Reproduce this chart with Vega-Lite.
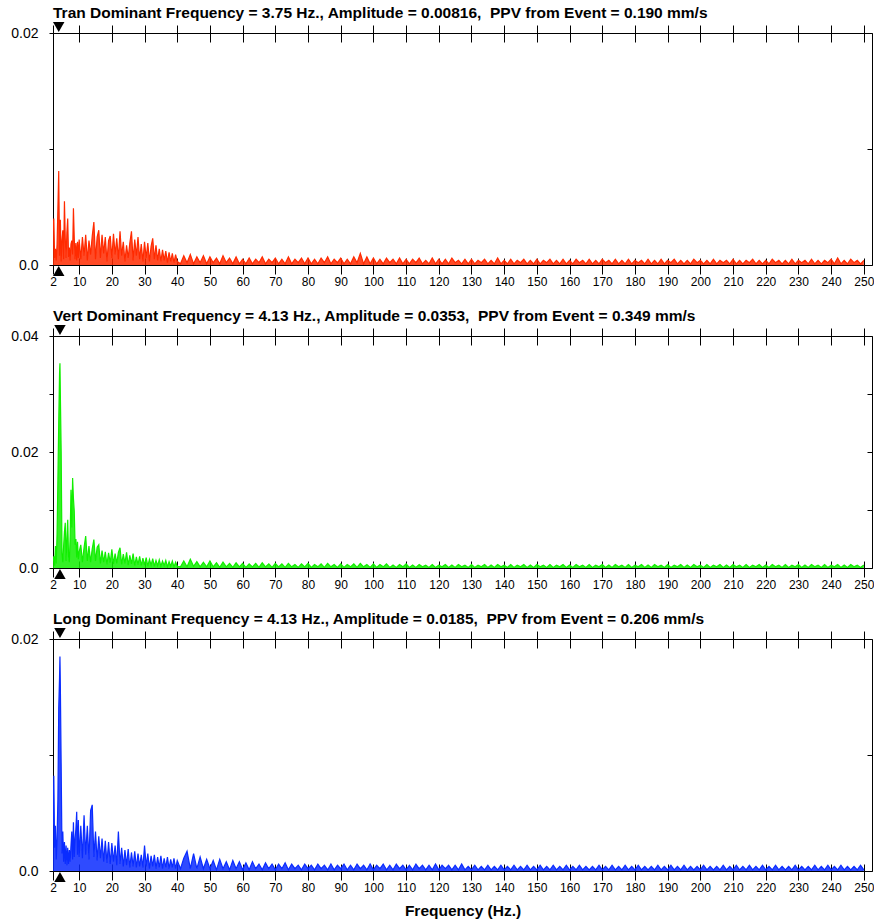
{
"$schema": "https://vega.github.io/schema/vega-lite/v6.json",
"padding": {"left": 10, "top": 5, "right": 0, "bottom": 0},
"config": {
 "view": {"stroke": "#000", "strokeWidth": 1},
 "axis": {"labelFont": "Liberation Sans", "labelFontSize": 12, "labelColor": "#000", "tickColor": "#000", "tickWidth": 1, "domain": false, "grid": false, "labelFlush": false, "titleFont": "Liberation Sans", "titleFontSize": 15.5, "titleFontWeight": "bold", "titleColor": "#000"},
 "axisY": {"labelFontSize": 14},
 "title": {"font": "Liberation Sans", "fontSize": 15.5, "fontWeight": "bold", "color": "#000", "anchor": "start", "frame": "group", "offset": 1},
 "concat": {"spacing": 20}
},
"datasets": {
"tran": [
{"f":2,"a":0.0030},{"f":2.25,"a":0.0040},{"f":2.5,"a":0.0006},{"f":2.75,"a":0.0014},{"f":3,"a":0.0004},{"f":3.25,"a":0.0018},{"f":3.5,"a":0.0049},{"f":3.75,"a":0.0081},{"f":4,"a":0.0008},{"f":4.25,"a":0.0039},{"f":4.5,"a":0.0003},{"f":4.75,"a":0.0021},{"f":5,"a":0.0030},{"f":5.25,"a":0.0005},{"f":5.5,"a":0.0055},{"f":5.75,"a":0.0023},{"f":6,"a":0.0006},{"f":6.25,"a":0.0028},{"f":6.5,"a":0.0040},{"f":6.75,"a":0.0007},{"f":7,"a":0.0015},{"f":7.25,"a":0.0004},{"f":7.5,"a":0.0018},{"f":7.75,"a":0.0021},{"f":8,"a":0.0009},{"f":8.25,"a":0.0049},{"f":8.5,"a":0.0023},{"f":8.75,"a":0.0005},{"f":9,"a":0.0019},{"f":9.25,"a":0.0004},{"f":9.5,"a":0.0020},{"f":9.75,"a":0.0006},{"f":10,"a":0.0022},
{"f":10.5,"a":0.0005},{"f":11,"a":0.0024},{"f":11.5,"a":0.0008},{"f":12,"a":0.0026},{"f":12.5,"a":0.0004},{"f":13,"a":0.0021},{"f":13.5,"a":0.0009},{"f":14,"a":0.0025},{"f":14.5,"a":0.0037},{"f":15,"a":0.0005},{"f":15.5,"a":0.0024},{"f":16,"a":0.0030},{"f":16.5,"a":0.0006},{"f":17,"a":0.0026},{"f":17.5,"a":0.0010},{"f":18,"a":0.0024},{"f":18.5,"a":0.0003},{"f":19,"a":0.0021},{"f":19.5,"a":0.0025},{"f":20,"a":0.0006},{"f":20.5,"a":0.0027},{"f":21,"a":0.0009},{"f":21.5,"a":0.0023},{"f":22,"a":0.0005},{"f":22.5,"a":0.0029},{"f":23,"a":0.0008},{"f":23.5,"a":0.0020},{"f":24,"a":0.0003},{"f":24.5,"a":0.0017},{"f":25,"a":0.0006},{"f":25.5,"a":0.0019},{"f":26,"a":0.0029},{"f":26.5,"a":0.0004},{"f":27,"a":0.0022},{"f":27.5,"a":0.0008},{"f":28,"a":0.0024},{"f":28.5,"a":0.0005},{"f":29,"a":0.0018},{"f":29.5,"a":0.0003},{"f":30,"a":0.0020},{"f":30.5,"a":0.0006},{"f":31,"a":0.0019},{"f":31.5,"a":0.0003},{"f":32,"a":0.0016},{"f":32.5,"a":0.0023},{"f":33,"a":0.0005},{"f":33.5,"a":0.0017},{"f":34,"a":0.0004},{"f":34.5,"a":0.0014},{"f":35,"a":0.0003},{"f":35.5,"a":0.0013},{"f":36,"a":0.0004},{"f":36.5,"a":0.0012},{"f":37,"a":0.0002},{"f":37.5,"a":0.0011},{"f":38,"a":0.0003},{"f":38.5,"a":0.0010},{"f":39,"a":0.0002},{"f":39.5,"a":0.0009},{"f":40,"a":0.0003},
{"f":41,"a":0.0001},{"f":42,"a":0.0008},{"f":43,"a":0.0002},{"f":44,"a":0.0009},{"f":45,"a":0.0001},{"f":46,"a":0.0007},{"f":47,"a":0.0002},{"f":48,"a":0.0008},{"f":49,"a":0.0001},{"f":50,"a":0.0007},{"f":51,"a":0.0002},{"f":52,"a":0.0006},{"f":53,"a":0.0001},{"f":54,"a":0.0008},{"f":55,"a":0.0002},{"f":56,"a":0.0006},{"f":57,"a":0.0001},{"f":58,"a":0.0007},{"f":59,"a":0.0001},{"f":60,"a":0.0005},
{"f":61,"a":0.0001},{"f":62,"a":0.0006},{"f":63,"a":0.0001},{"f":64,"a":0.0005},{"f":65,"a":0.0002},{"f":66,"a":0.0007},{"f":67,"a":0.0001},{"f":68,"a":0.0005},{"f":69,"a":0.0002},{"f":70,"a":0.0006},{"f":71,"a":0.0001},{"f":72,"a":0.0005},{"f":73,"a":0.0001},{"f":74,"a":0.0007},{"f":75,"a":0.0001},{"f":76,"a":0.0005},{"f":77,"a":0.0002},{"f":78,"a":0.0006},{"f":79,"a":0.0001},{"f":80,"a":0.0006},
{"f":81,"a":0.0001},{"f":82,"a":0.0005},{"f":83,"a":0.0001},{"f":84,"a":0.0006},{"f":85,"a":0.0002},{"f":86,"a":0.0007},{"f":87,"a":0.0001},{"f":88,"a":0.0005},{"f":89,"a":0.0002},{"f":90,"a":0.0006},{"f":91,"a":0.0001},{"f":92,"a":0.0005},{"f":93,"a":0.0001},{"f":94,"a":0.0007},{"f":95,"a":0.0002},{"f":96,"a":0.0010},{"f":97,"a":0.0001},{"f":98,"a":0.0007},{"f":99,"a":0.0001},{"f":100,"a":0.0006},
{"f":101,"a":0.0001},{"f":102,"a":0.0005},{"f":103,"a":0.0001},{"f":104,"a":0.0006},{"f":105,"a":0.0002},{"f":106,"a":0.0005},{"f":107,"a":0.0001},{"f":108,"a":0.0006},{"f":109,"a":0.0001},{"f":110,"a":0.0005},{"f":111,"a":0.0001},{"f":112,"a":0.0005},{"f":113,"a":0.0002},{"f":114,"a":0.0006},{"f":115,"a":0.0001},{"f":116,"a":0.0004},{"f":117,"a":0.0001},{"f":118,"a":0.0006},{"f":119,"a":0.0001},{"f":120,"a":0.0005},
{"f":121,"a":0.0001},{"f":122,"a":0.0005},{"f":123,"a":0.0001},{"f":124,"a":0.0006},{"f":125,"a":0.0002},{"f":126,"a":0.0004},{"f":127,"a":0.0001},{"f":128,"a":0.0005},{"f":129,"a":0.0001},{"f":130,"a":0.0005},{"f":131,"a":0.0001},{"f":132,"a":0.0004},{"f":133,"a":0.0002},{"f":134,"a":0.0005},{"f":135,"a":0.0001},{"f":136,"a":0.0004},{"f":137,"a":0.0001},{"f":138,"a":0.0006},{"f":139,"a":0.0001},{"f":140,"a":0.0004},
{"f":141,"a":0.0001},{"f":142,"a":0.0005},{"f":143,"a":0.0001},{"f":144,"a":0.0004},{"f":145,"a":0.0002},{"f":146,"a":0.0005},{"f":147,"a":0.0001},{"f":148,"a":0.0004},{"f":149,"a":0.0001},{"f":150,"a":0.0005},{"f":151,"a":0.0001},{"f":152,"a":0.0004},{"f":153,"a":0.0002},{"f":154,"a":0.0005},{"f":155,"a":0.0001},{"f":156,"a":0.0004},{"f":157,"a":0.0001},{"f":158,"a":0.0005},{"f":159,"a":0.0001},{"f":160,"a":0.0004},
{"f":161,"a":0.0001},{"f":162,"a":0.0005},{"f":163,"a":0.0002},{"f":164,"a":0.0004},{"f":165,"a":0.0001},{"f":166,"a":0.0005},{"f":167,"a":0.0001},{"f":168,"a":0.0004},{"f":169,"a":0.0001},{"f":170,"a":0.0005},{"f":171,"a":0.0002},{"f":172,"a":0.0004},{"f":173,"a":0.0001},{"f":174,"a":0.0005},{"f":175,"a":0.0001},{"f":176,"a":0.0004},{"f":177,"a":0.0001},{"f":178,"a":0.0005},{"f":179,"a":0.0001},{"f":180,"a":0.0004},
{"f":181,"a":0.0002},{"f":182,"a":0.0004},{"f":183,"a":0.0001},{"f":184,"a":0.0005},{"f":185,"a":0.0001},{"f":186,"a":0.0004},{"f":187,"a":0.0001},{"f":188,"a":0.0005},{"f":189,"a":0.0001},{"f":190,"a":0.0004},{"f":191,"a":0.0002},{"f":192,"a":0.0005},{"f":193,"a":0.0001},{"f":194,"a":0.0004},{"f":195,"a":0.0001},{"f":196,"a":0.0004},{"f":197,"a":0.0001},{"f":198,"a":0.0005},{"f":199,"a":0.0002},{"f":200,"a":0.0004},
{"f":201,"a":0.0001},{"f":202,"a":0.0004},{"f":203,"a":0.0001},{"f":204,"a":0.0005},{"f":205,"a":0.0001},{"f":206,"a":0.0004},{"f":207,"a":0.0002},{"f":208,"a":0.0004},{"f":209,"a":0.0001},{"f":210,"a":0.0005},{"f":211,"a":0.0001},{"f":212,"a":0.0004},{"f":213,"a":0.0001},{"f":214,"a":0.0004},{"f":215,"a":0.0002},{"f":216,"a":0.0005},{"f":217,"a":0.0001},{"f":218,"a":0.0004},{"f":219,"a":0.0001},{"f":220,"a":0.0004},
{"f":221,"a":0.0001},{"f":222,"a":0.0005},{"f":223,"a":0.0002},{"f":224,"a":0.0004},{"f":225,"a":0.0001},{"f":226,"a":0.0004},{"f":227,"a":0.0001},{"f":228,"a":0.0005},{"f":229,"a":0.0001},{"f":230,"a":0.0004},{"f":231,"a":0.0002},{"f":232,"a":0.0004},{"f":233,"a":0.0001},{"f":234,"a":0.0005},{"f":235,"a":0.0001},{"f":236,"a":0.0004},{"f":237,"a":0.0001},{"f":238,"a":0.0004},{"f":239,"a":0.0002},{"f":240,"a":0.0005},
{"f":241,"a":0.0001},{"f":242,"a":0.0006},{"f":243,"a":0.0001},{"f":244,"a":0.0004},{"f":245,"a":0.0001},{"f":246,"a":0.0005},{"f":247,"a":0.0002},{"f":248,"a":0.0004},{"f":249,"a":0.0001},{"f":250,"a":0.0004}
],
"vert": [
{"f":2,"a":0.0012},{"f":2.25,"a":0.0020},{"f":2.5,"a":0.0004},{"f":2.75,"a":0.0038},{"f":3,"a":0.0008},{"f":3.25,"a":0.0060},{"f":3.5,"a":0.0152},{"f":3.75,"a":0.0250},{"f":4,"a":0.0335},{"f":4.125,"a":0.0353},{"f":4.25,"a":0.0300},{"f":4.5,"a":0.0200},{"f":4.75,"a":0.0025},{"f":5,"a":0.0010},{"f":5.25,"a":0.0038},{"f":5.5,"a":0.0062},{"f":5.75,"a":0.0078},{"f":6,"a":0.0012},{"f":6.25,"a":0.0050},{"f":6.5,"a":0.0083},{"f":6.75,"a":0.0020},{"f":7,"a":0.0010},{"f":7.25,"a":0.0055},{"f":7.5,"a":0.0135},{"f":7.75,"a":0.0070},{"f":8,"a":0.0155},{"f":8.25,"a":0.0120},{"f":8.5,"a":0.0098},{"f":8.75,"a":0.0040},{"f":9,"a":0.0050},{"f":9.25,"a":0.0018},{"f":9.5,"a":0.0045},{"f":9.75,"a":0.0015},{"f":10,"a":0.0028},
{"f":10.5,"a":0.0040},{"f":11,"a":0.0010},{"f":11.5,"a":0.0035},{"f":12,"a":0.0055},{"f":12.5,"a":0.0012},{"f":13,"a":0.0038},{"f":13.5,"a":0.0010},{"f":14,"a":0.0033},{"f":14.5,"a":0.0049},{"f":15,"a":0.0012},{"f":15.5,"a":0.0036},{"f":16,"a":0.0040},{"f":16.5,"a":0.0008},{"f":17,"a":0.0030},{"f":17.5,"a":0.0010},{"f":18,"a":0.0028},{"f":18.5,"a":0.0006},{"f":19,"a":0.0026},{"f":19.5,"a":0.0009},{"f":20,"a":0.0032},{"f":20.5,"a":0.0007},{"f":21,"a":0.0025},{"f":21.5,"a":0.0008},{"f":22,"a":0.0027},{"f":22.5,"a":0.0035},{"f":23,"a":0.0006},{"f":23.5,"a":0.0024},{"f":24,"a":0.0008},{"f":24.5,"a":0.0027},{"f":25,"a":0.0005},{"f":25.5,"a":0.0022},{"f":26,"a":0.0007},{"f":26.5,"a":0.0025},{"f":27,"a":0.0004},{"f":27.5,"a":0.0019},{"f":28,"a":0.0006},{"f":28.5,"a":0.0020},{"f":29,"a":0.0004},{"f":29.5,"a":0.0017},{"f":30,"a":0.0005},{"f":30.5,"a":0.0018},{"f":31,"a":0.0003},{"f":31.5,"a":0.0015},{"f":32,"a":0.0005},{"f":32.5,"a":0.0016},{"f":33,"a":0.0003},{"f":33.5,"a":0.0013},{"f":34,"a":0.0004},{"f":34.5,"a":0.0014},{"f":35,"a":0.0003},{"f":35.5,"a":0.0012},{"f":36,"a":0.0004},{"f":36.5,"a":0.0013},{"f":37,"a":0.0002},{"f":37.5,"a":0.0011},{"f":38,"a":0.0003},{"f":38.5,"a":0.0012},{"f":39,"a":0.0002},{"f":39.5,"a":0.0010},{"f":40,"a":0.0003},
{"f":41,"a":0.0002},{"f":42,"a":0.0012},{"f":43,"a":0.0002},{"f":44,"a":0.0015},{"f":45,"a":0.0003},{"f":46,"a":0.0011},{"f":47,"a":0.0002},{"f":48,"a":0.0010},{"f":49,"a":0.0002},{"f":50,"a":0.0012},{"f":51,"a":0.0002},{"f":52,"a":0.0009},{"f":53,"a":0.0001},{"f":54,"a":0.0010},{"f":55,"a":0.0002},{"f":56,"a":0.0008},{"f":57,"a":0.0001},{"f":58,"a":0.0009},{"f":59,"a":0.0002},{"f":60,"a":0.0008},
{"f":61,"a":0.0001},{"f":62,"a":0.0007},{"f":63,"a":0.0002},{"f":64,"a":0.0008},{"f":65,"a":0.0001},{"f":66,"a":0.0009},{"f":67,"a":0.0002},{"f":68,"a":0.0007},{"f":69,"a":0.0001},{"f":70,"a":0.0008},{"f":71,"a":0.0002},{"f":72,"a":0.0007},{"f":73,"a":0.0001},{"f":74,"a":0.0008},{"f":75,"a":0.0002},{"f":76,"a":0.0006},{"f":77,"a":0.0001},{"f":78,"a":0.0007},{"f":79,"a":0.0002},{"f":80,"a":0.0008},
{"f":81,"a":0.0001},{"f":82,"a":0.0006},{"f":83,"a":0.0002},{"f":84,"a":0.0007},{"f":85,"a":0.0001},{"f":86,"a":0.0008},{"f":87,"a":0.0002},{"f":88,"a":0.0006},{"f":89,"a":0.0001},{"f":90,"a":0.0007},{"f":91,"a":0.0001},{"f":92,"a":0.0006},{"f":93,"a":0.0002},{"f":94,"a":0.0007},{"f":95,"a":0.0001},{"f":96,"a":0.0008},{"f":97,"a":0.0002},{"f":98,"a":0.0006},{"f":99,"a":0.0001},{"f":100,"a":0.0007},
{"f":101,"a":0.0001},{"f":102,"a":0.0006},{"f":103,"a":0.0002},{"f":104,"a":0.0007},{"f":105,"a":0.0001},{"f":106,"a":0.0005},{"f":107,"a":0.0001},{"f":108,"a":0.0006},{"f":109,"a":0.0002},{"f":110,"a":0.0007},{"f":111,"a":0.0001},{"f":112,"a":0.0005},{"f":113,"a":0.0001},{"f":114,"a":0.0006},{"f":115,"a":0.0002},{"f":116,"a":0.0005},{"f":117,"a":0.0001},{"f":118,"a":0.0006},{"f":119,"a":0.0001},{"f":120,"a":0.0005},
{"f":121,"a":0.0002},{"f":122,"a":0.0006},{"f":123,"a":0.0001},{"f":124,"a":0.0005},{"f":125,"a":0.0001},{"f":126,"a":0.0006},{"f":127,"a":0.0002},{"f":128,"a":0.0005},{"f":129,"a":0.0001},{"f":130,"a":0.0006},{"f":131,"a":0.0001},{"f":132,"a":0.0005},{"f":133,"a":0.0002},{"f":134,"a":0.0006},{"f":135,"a":0.0001},{"f":136,"a":0.0005},{"f":137,"a":0.0001},{"f":138,"a":0.0006},{"f":139,"a":0.0002},{"f":140,"a":0.0005},
{"f":141,"a":0.0001},{"f":142,"a":0.0006},{"f":143,"a":0.0001},{"f":144,"a":0.0005},{"f":145,"a":0.0002},{"f":146,"a":0.0006},{"f":147,"a":0.0001},{"f":148,"a":0.0005},{"f":149,"a":0.0001},{"f":150,"a":0.0006},{"f":151,"a":0.0002},{"f":152,"a":0.0005},{"f":153,"a":0.0001},{"f":154,"a":0.0006},{"f":155,"a":0.0001},{"f":156,"a":0.0005},{"f":157,"a":0.0002},{"f":158,"a":0.0006},{"f":159,"a":0.0001},{"f":160,"a":0.0005},
{"f":161,"a":0.0001},{"f":162,"a":0.0006},{"f":163,"a":0.0002},{"f":164,"a":0.0005},{"f":165,"a":0.0001},{"f":166,"a":0.0006},{"f":167,"a":0.0001},{"f":168,"a":0.0005},{"f":169,"a":0.0002},{"f":170,"a":0.0006},{"f":171,"a":0.0001},{"f":172,"a":0.0005},{"f":173,"a":0.0001},{"f":174,"a":0.0006},{"f":175,"a":0.0002},{"f":176,"a":0.0005},{"f":177,"a":0.0001},{"f":178,"a":0.0006},{"f":179,"a":0.0001},{"f":180,"a":0.0005},
{"f":181,"a":0.0002},{"f":182,"a":0.0006},{"f":183,"a":0.0001},{"f":184,"a":0.0005},{"f":185,"a":0.0001},{"f":186,"a":0.0006},{"f":187,"a":0.0002},{"f":188,"a":0.0005},{"f":189,"a":0.0001},{"f":190,"a":0.0006},{"f":191,"a":0.0001},{"f":192,"a":0.0005},{"f":193,"a":0.0002},{"f":194,"a":0.0006},{"f":195,"a":0.0001},{"f":196,"a":0.0005},{"f":197,"a":0.0001},{"f":198,"a":0.0006},{"f":199,"a":0.0002},{"f":200,"a":0.0005},
{"f":201,"a":0.0001},{"f":202,"a":0.0006},{"f":203,"a":0.0001},{"f":204,"a":0.0005},{"f":205,"a":0.0002},{"f":206,"a":0.0006},{"f":207,"a":0.0001},{"f":208,"a":0.0005},{"f":209,"a":0.0001},{"f":210,"a":0.0006},{"f":211,"a":0.0002},{"f":212,"a":0.0005},{"f":213,"a":0.0001},{"f":214,"a":0.0006},{"f":215,"a":0.0001},{"f":216,"a":0.0005},{"f":217,"a":0.0002},{"f":218,"a":0.0006},{"f":219,"a":0.0001},{"f":220,"a":0.0005},
{"f":221,"a":0.0001},{"f":222,"a":0.0006},{"f":223,"a":0.0002},{"f":224,"a":0.0005},{"f":225,"a":0.0001},{"f":226,"a":0.0006},{"f":227,"a":0.0001},{"f":228,"a":0.0005},{"f":229,"a":0.0002},{"f":230,"a":0.0006},{"f":231,"a":0.0001},{"f":232,"a":0.0005},{"f":233,"a":0.0001},{"f":234,"a":0.0006},{"f":235,"a":0.0002},{"f":236,"a":0.0005},{"f":237,"a":0.0001},{"f":238,"a":0.0006},{"f":239,"a":0.0001},{"f":240,"a":0.0005},
{"f":241,"a":0.0002},{"f":242,"a":0.0006},{"f":243,"a":0.0001},{"f":244,"a":0.0005},{"f":245,"a":0.0001},{"f":246,"a":0.0006},{"f":247,"a":0.0002},{"f":248,"a":0.0005},{"f":249,"a":0.0001},{"f":250,"a":0.0005}
],
"long": [
{"f":2,"a":0.0040},{"f":2.25,"a":0.0082},{"f":2.5,"a":0.0020},{"f":2.75,"a":0.0039},{"f":3,"a":0.0010},{"f":3.25,"a":0.0028},{"f":3.5,"a":0.0062},{"f":3.75,"a":0.0140},{"f":4,"a":0.0167},{"f":4.125,"a":0.0185},{"f":4.25,"a":0.0160},{"f":4.5,"a":0.0090},{"f":4.75,"a":0.0015},{"f":5,"a":0.0034},{"f":5.25,"a":0.0008},{"f":5.5,"a":0.0025},{"f":5.75,"a":0.0006},{"f":6,"a":0.0022},{"f":6.25,"a":0.0005},{"f":6.5,"a":0.0020},{"f":6.75,"a":0.0006},{"f":7,"a":0.0018},{"f":7.25,"a":0.0008},{"f":7.5,"a":0.0022},{"f":7.75,"a":0.0034},{"f":8,"a":0.0010},{"f":8.25,"a":0.0042},{"f":8.5,"a":0.0012},{"f":8.75,"a":0.0028},{"f":9,"a":0.0036},{"f":9.25,"a":0.0051},{"f":9.5,"a":0.0014},{"f":9.75,"a":0.0044},{"f":10,"a":0.0012},
{"f":10.5,"a":0.0039},{"f":11,"a":0.0011},{"f":11.5,"a":0.0048},{"f":12,"a":0.0014},{"f":12.5,"a":0.0039},{"f":13,"a":0.0010},{"f":13.5,"a":0.0052},{"f":14,"a":0.0057},{"f":14.5,"a":0.0012},{"f":15,"a":0.0034},{"f":15.5,"a":0.0009},{"f":16,"a":0.0030},{"f":16.5,"a":0.0011},{"f":17,"a":0.0028},{"f":17.5,"a":0.0008},{"f":18,"a":0.0026},{"f":18.5,"a":0.0007},{"f":19,"a":0.0025},{"f":19.5,"a":0.0006},{"f":20,"a":0.0024},{"f":20.5,"a":0.0008},{"f":21,"a":0.0022},{"f":21.5,"a":0.0005},{"f":22,"a":0.0034},{"f":22.5,"a":0.0006},{"f":23,"a":0.0020},{"f":23.5,"a":0.0004},{"f":24,"a":0.0018},{"f":24.5,"a":0.0005},{"f":25,"a":0.0019},{"f":25.5,"a":0.0003},{"f":26,"a":0.0016},{"f":26.5,"a":0.0004},{"f":27,"a":0.0017},{"f":27.5,"a":0.0003},{"f":28,"a":0.0015},{"f":28.5,"a":0.0004},{"f":29,"a":0.0014},{"f":29.5,"a":0.0003},{"f":30,"a":0.0022},{"f":30.5,"a":0.0004},{"f":31,"a":0.0015},{"f":31.5,"a":0.0002},{"f":32,"a":0.0013},{"f":32.5,"a":0.0004},{"f":33,"a":0.0014},{"f":33.5,"a":0.0002},{"f":34,"a":0.0012},{"f":34.5,"a":0.0003},{"f":35,"a":0.0013},{"f":35.5,"a":0.0002},{"f":36,"a":0.0011},{"f":36.5,"a":0.0003},{"f":37,"a":0.0012},{"f":37.5,"a":0.0002},{"f":38,"a":0.0010},{"f":38.5,"a":0.0003},{"f":39,"a":0.0011},{"f":39.5,"a":0.0002},{"f":40,"a":0.0009},
{"f":41,"a":0.0002},{"f":42,"a":0.0011},{"f":43,"a":0.0017},{"f":44,"a":0.0002},{"f":45,"a":0.0015},{"f":46,"a":0.0002},{"f":47,"a":0.0012},{"f":48,"a":0.0002},{"f":49,"a":0.0010},{"f":50,"a":0.0002},{"f":51,"a":0.0009},{"f":52,"a":0.0001},{"f":53,"a":0.0010},{"f":54,"a":0.0002},{"f":55,"a":0.0008},{"f":56,"a":0.0001},{"f":57,"a":0.0009},{"f":58,"a":0.0002},{"f":59,"a":0.0008},{"f":60,"a":0.0001},
{"f":61,"a":0.0007},{"f":62,"a":0.0001},{"f":63,"a":0.0008},{"f":64,"a":0.0002},{"f":65,"a":0.0006},{"f":66,"a":0.0001},{"f":67,"a":0.0007},{"f":68,"a":0.0002},{"f":69,"a":0.0006},{"f":70,"a":0.0001},{"f":71,"a":0.0006},{"f":72,"a":0.0002},{"f":73,"a":0.0007},{"f":74,"a":0.0001},{"f":75,"a":0.0006},{"f":76,"a":0.0002},{"f":77,"a":0.0005},{"f":78,"a":0.0001},{"f":79,"a":0.0006},{"f":80,"a":0.0002},
{"f":81,"a":0.0005},{"f":82,"a":0.0001},{"f":83,"a":0.0006},{"f":84,"a":0.0002},{"f":85,"a":0.0005},{"f":86,"a":0.0001},{"f":87,"a":0.0006},{"f":88,"a":0.0001},{"f":89,"a":0.0005},{"f":90,"a":0.0002},{"f":91,"a":0.0006},{"f":92,"a":0.0001},{"f":93,"a":0.0005},{"f":94,"a":0.0001},{"f":95,"a":0.0006},{"f":96,"a":0.0002},{"f":97,"a":0.0005},{"f":98,"a":0.0001},{"f":99,"a":0.0006},{"f":100,"a":0.0001},
{"f":101,"a":0.0005},{"f":102,"a":0.0002},{"f":103,"a":0.0006},{"f":104,"a":0.0001},{"f":105,"a":0.0005},{"f":106,"a":0.0001},{"f":107,"a":0.0006},{"f":108,"a":0.0002},{"f":109,"a":0.0005},{"f":110,"a":0.0001},{"f":111,"a":0.0005},{"f":112,"a":0.0001},{"f":113,"a":0.0006},{"f":114,"a":0.0002},{"f":115,"a":0.0005},{"f":116,"a":0.0001},{"f":117,"a":0.0005},{"f":118,"a":0.0001},{"f":119,"a":0.0006},{"f":120,"a":0.0001},
{"f":121,"a":0.0005},{"f":122,"a":0.0002},{"f":123,"a":0.0005},{"f":124,"a":0.0001},{"f":125,"a":0.0005},{"f":126,"a":0.0001},{"f":127,"a":0.0006},{"f":128,"a":0.0001},{"f":129,"a":0.0004},{"f":130,"a":0.0001},{"f":131,"a":0.0005},{"f":132,"a":0.0001},{"f":133,"a":0.0004},{"f":134,"a":0.0001},{"f":135,"a":0.0005},{"f":136,"a":0.0001},{"f":137,"a":0.0004},{"f":138,"a":0.0001},{"f":139,"a":0.0005},{"f":140,"a":0.0001},
{"f":141,"a":0.0004},{"f":142,"a":0.0001},{"f":143,"a":0.0005},{"f":144,"a":0.0001},{"f":145,"a":0.0004},{"f":146,"a":0.0001},{"f":147,"a":0.0005},{"f":148,"a":0.0001},{"f":149,"a":0.0004},{"f":150,"a":0.0001},{"f":151,"a":0.0005},{"f":152,"a":0.0001},{"f":153,"a":0.0004},{"f":154,"a":0.0001},{"f":155,"a":0.0005},{"f":156,"a":0.0001},{"f":157,"a":0.0004},{"f":158,"a":0.0001},{"f":159,"a":0.0005},{"f":160,"a":0.0001},
{"f":161,"a":0.0004},{"f":162,"a":0.0001},{"f":163,"a":0.0005},{"f":164,"a":0.0001},{"f":165,"a":0.0004},{"f":166,"a":0.0001},{"f":167,"a":0.0004},{"f":168,"a":0.0001},{"f":169,"a":0.0005},{"f":170,"a":0.0001},{"f":171,"a":0.0004},{"f":172,"a":0.0001},{"f":173,"a":0.0005},{"f":174,"a":0.0001},{"f":175,"a":0.0004},{"f":176,"a":0.0001},{"f":177,"a":0.0005},{"f":178,"a":0.0001},{"f":179,"a":0.0004},{"f":180,"a":0.0001},
{"f":181,"a":0.0005},{"f":182,"a":0.0001},{"f":183,"a":0.0004},{"f":184,"a":0.0001},{"f":185,"a":0.0004},{"f":186,"a":0.0001},{"f":187,"a":0.0005},{"f":188,"a":0.0001},{"f":189,"a":0.0004},{"f":190,"a":0.0001},{"f":191,"a":0.0005},{"f":192,"a":0.0001},{"f":193,"a":0.0004},{"f":194,"a":0.0001},{"f":195,"a":0.0005},{"f":196,"a":0.0001},{"f":197,"a":0.0004},{"f":198,"a":0.0001},{"f":199,"a":0.0004},{"f":200,"a":0.0001},
{"f":201,"a":0.0005},{"f":202,"a":0.0001},{"f":203,"a":0.0004},{"f":204,"a":0.0001},{"f":205,"a":0.0004},{"f":206,"a":0.0001},{"f":207,"a":0.0005},{"f":208,"a":0.0001},{"f":209,"a":0.0004},{"f":210,"a":0.0001},{"f":211,"a":0.0005},{"f":212,"a":0.0001},{"f":213,"a":0.0004},{"f":214,"a":0.0001},{"f":215,"a":0.0005},{"f":216,"a":0.0001},{"f":217,"a":0.0004},{"f":218,"a":0.0001},{"f":219,"a":0.0005},{"f":220,"a":0.0001},
{"f":221,"a":0.0004},{"f":222,"a":0.0001},{"f":223,"a":0.0005},{"f":224,"a":0.0001},{"f":225,"a":0.0004},{"f":226,"a":0.0001},{"f":227,"a":0.0004},{"f":228,"a":0.0001},{"f":229,"a":0.0005},{"f":230,"a":0.0001},{"f":231,"a":0.0004},{"f":232,"a":0.0001},{"f":233,"a":0.0004},{"f":234,"a":0.0001},{"f":235,"a":0.0005},{"f":236,"a":0.0001},{"f":237,"a":0.0004},{"f":238,"a":0.0001},{"f":239,"a":0.0005},{"f":240,"a":0.0001},
{"f":241,"a":0.0004},{"f":242,"a":0.0001},{"f":243,"a":0.0005},{"f":244,"a":0.0001},{"f":245,"a":0.0004},{"f":246,"a":0.0001},{"f":247,"a":0.0004},{"f":248,"a":0.0001},{"f":249,"a":0.0005},{"f":250,"a":0.0001}
],
"dt": [{"f": 3.75}],
"dv": [{"f": 4.13}],
"dl": [{"f": 4.13}]
},
"vconcat": [
{
 "width": 819, "height": 232,
 "title": {"text": "Tran Dominant Frequency = 3.75 Hz., Amplitude = 0.00816, \u00a0PPV from Event = 0.190 mm/s"},
 "layer": [
  {"data": {"name": "tran"}, "mark": {"type": "area", "color": "#ff2a00", "fillOpacity": 0.85, "clip": true, "line": {"color": "#ff2a00", "strokeWidth": 1.2}},
   "encoding": {
    "x": {"field": "f", "type": "quantitative", "scale": {"domain": [2, 252.5], "nice": false, "zero": false}, "axis": {"orient": "bottom", "values": [2,10,20,30,40,50,60,70,80,90,100,110,120,130,140,150,160,170,180,190,200,210,220,230,240,250], "tickSize": 9, "labelPadding": 2, "title": null}},
    "y": {"field": "a", "type": "quantitative", "scale": {"domain": [0, 0.02], "nice": false}, "axis": {"values": [0, 0.01, 0.02], "labelExpr": "datum.value == 0 ? '0.0' : (datum.value == 0.01 || datum.value == 0.03 ? '' : format(datum.value, '.2f'))", "tickSize": 4, "labelPadding": 11, "title": null}}
   }},
  {"data": {"name": "dt"}, "mark": {"type": "point", "shape": "triangle-down", "filled": true, "color": "#000", "opacity": 1, "size": 130, "yOffset": -6, "clip": false},
   "encoding": {
    "x": {"field": "f", "type": "quantitative", "axis": {"orient": "top", "values": [2,10,20,30,40,50,60,70,80,90,100,110,120,130,140,150,160,170,180,190,200,210,220,230,240,250], "tickSize": 8, "labels": false, "title": null}},
    "y": {"datum": 0.02, "type": "quantitative", "axis": {"values": [0, 0.01, 0.02], "offset": -5, "tickSize": 5, "labels": false, "title": null}}
   }},
  {"data": {"name": "dt"}, "mark": {"type": "point", "shape": "triangle-up", "filled": true, "color": "#000", "opacity": 1, "size": 130, "yOffset": 6, "clip": false},
   "encoding": {
    "x": {"field": "f", "type": "quantitative", "axis": {"orient": "bottom", "offset": -7, "values": [2,10,20,30,40,50,60,70,80,90,100,110,120,130,140,150,160,170,180,190,200,210,220,230,240,250], "tickSize": 7, "labels": false, "title": null}},
    "y": {"datum": 0, "type": "quantitative", "axis": null}
   }},
  {"data": {"name": "dt"}, "mark": {"type": "point", "opacity": 0},
   "encoding": {
    "x": {"field": "f", "type": "quantitative", "axis": {"orient": "top", "offset": -9, "values": [2,10,20,30,40,50,60,70,80,90,100,110,120,130,140,150,160,170,180,190,200,210,220,230,240,250], "tickSize": 9, "labels": false, "title": null}},
    "y": {"datum": 0, "type": "quantitative", "axis": null}
   }}
 ],
 "resolve": {"axis": {"x": "independent", "y": "independent"}}
},
{
 "width": 819, "height": 232,
 "title": {"text": "Vert Dominant Frequency = 4.13 Hz., Amplitude = 0.0353, \u00a0PPV from Event = 0.349 mm/s"},
 "layer": [
  {"data": {"name": "vert"}, "mark": {"type": "area", "color": "#11ee00", "fillOpacity": 0.85, "clip": true, "line": {"color": "#11ee00", "strokeWidth": 1.2}},
   "encoding": {
    "x": {"field": "f", "type": "quantitative", "scale": {"domain": [2, 252.5], "nice": false, "zero": false}, "axis": {"orient": "bottom", "values": [2,10,20,30,40,50,60,70,80,90,100,110,120,130,140,150,160,170,180,190,200,210,220,230,240,250], "tickSize": 9, "labelPadding": 2, "title": null}},
    "y": {"field": "a", "type": "quantitative", "scale": {"domain": [0, 0.04], "nice": false}, "axis": {"values": [0, 0.01, 0.02, 0.03, 0.04], "labelExpr": "datum.value == 0 ? '0.0' : (datum.value == 0.01 || datum.value == 0.03 ? '' : format(datum.value, '.2f'))", "tickSize": 4, "labelPadding": 11, "title": null}}
   }},
  {"data": {"name": "dv"}, "mark": {"type": "point", "shape": "triangle-down", "filled": true, "color": "#000", "opacity": 1, "size": 130, "yOffset": -6, "clip": false},
   "encoding": {
    "x": {"field": "f", "type": "quantitative", "axis": {"orient": "top", "values": [2,10,20,30,40,50,60,70,80,90,100,110,120,130,140,150,160,170,180,190,200,210,220,230,240,250], "tickSize": 8, "labels": false, "title": null}},
    "y": {"datum": 0.04, "type": "quantitative", "axis": {"values": [0, 0.01, 0.02, 0.03, 0.04], "offset": -5, "tickSize": 5, "labels": false, "title": null}}
   }},
  {"data": {"name": "dv"}, "mark": {"type": "point", "shape": "triangle-up", "filled": true, "color": "#000", "opacity": 1, "size": 130, "yOffset": 6, "clip": false},
   "encoding": {
    "x": {"field": "f", "type": "quantitative", "axis": {"orient": "bottom", "offset": -7, "values": [2,10,20,30,40,50,60,70,80,90,100,110,120,130,140,150,160,170,180,190,200,210,220,230,240,250], "tickSize": 7, "labels": false, "title": null}},
    "y": {"datum": 0, "type": "quantitative", "axis": null}
   }},
  {"data": {"name": "dv"}, "mark": {"type": "point", "opacity": 0},
   "encoding": {
    "x": {"field": "f", "type": "quantitative", "axis": {"orient": "top", "offset": -9, "values": [2,10,20,30,40,50,60,70,80,90,100,110,120,130,140,150,160,170,180,190,200,210,220,230,240,250], "tickSize": 9, "labels": false, "title": null}},
    "y": {"datum": 0, "type": "quantitative", "axis": null}
   }}
 ],
 "resolve": {"axis": {"x": "independent", "y": "independent"}}
},
{
 "width": 819, "height": 232,
 "title": {"text": "Long Dominant Frequency = 4.13 Hz., Amplitude = 0.0185, \u00a0PPV from Event = 0.206 mm/s"},
 "layer": [
  {"data": {"name": "long"}, "mark": {"type": "area", "color": "#0a2cff", "fillOpacity": 0.85, "clip": true, "line": {"color": "#0a2cff", "strokeWidth": 1.2}},
   "encoding": {
    "x": {"field": "f", "type": "quantitative", "scale": {"domain": [2, 252.5], "nice": false, "zero": false}, "axis": {"orient": "bottom", "values": [2,10,20,30,40,50,60,70,80,90,100,110,120,130,140,150,160,170,180,190,200,210,220,230,240,250], "tickSize": 9, "labelPadding": 2, "title": "Frequency (Hz.)", "titlePadding": 10}},
    "y": {"field": "a", "type": "quantitative", "scale": {"domain": [0, 0.02], "nice": false}, "axis": {"values": [0, 0.01, 0.02], "labelExpr": "datum.value == 0 ? '0.0' : (datum.value == 0.01 || datum.value == 0.03 ? '' : format(datum.value, '.2f'))", "tickSize": 4, "labelPadding": 11, "title": null}}
   }},
  {"data": {"name": "dl"}, "mark": {"type": "point", "shape": "triangle-down", "filled": true, "color": "#000", "opacity": 1, "size": 130, "yOffset": -6, "clip": false},
   "encoding": {
    "x": {"field": "f", "type": "quantitative", "axis": {"orient": "top", "values": [2,10,20,30,40,50,60,70,80,90,100,110,120,130,140,150,160,170,180,190,200,210,220,230,240,250], "tickSize": 8, "labels": false, "title": null}},
    "y": {"datum": 0.02, "type": "quantitative", "axis": {"values": [0, 0.01, 0.02], "offset": -5, "tickSize": 5, "labels": false, "title": null}}
   }},
  {"data": {"name": "dl"}, "mark": {"type": "point", "shape": "triangle-up", "filled": true, "color": "#000", "opacity": 1, "size": 130, "yOffset": 6, "clip": false},
   "encoding": {
    "x": {"field": "f", "type": "quantitative", "axis": {"orient": "bottom", "offset": -7, "values": [2,10,20,30,40,50,60,70,80,90,100,110,120,130,140,150,160,170,180,190,200,210,220,230,240,250], "tickSize": 7, "labels": false, "title": null}},
    "y": {"datum": 0, "type": "quantitative", "axis": null}
   }},
  {"data": {"name": "dl"}, "mark": {"type": "point", "opacity": 0},
   "encoding": {
    "x": {"field": "f", "type": "quantitative", "axis": {"orient": "top", "offset": -9, "values": [2,10,20,30,40,50,60,70,80,90,100,110,120,130,140,150,160,170,180,190,200,210,220,230,240,250], "tickSize": 9, "labels": false, "title": null}},
    "y": {"datum": 0, "type": "quantitative", "axis": null}
   }}
 ],
 "resolve": {"axis": {"x": "independent", "y": "independent"}}
}
]
}
